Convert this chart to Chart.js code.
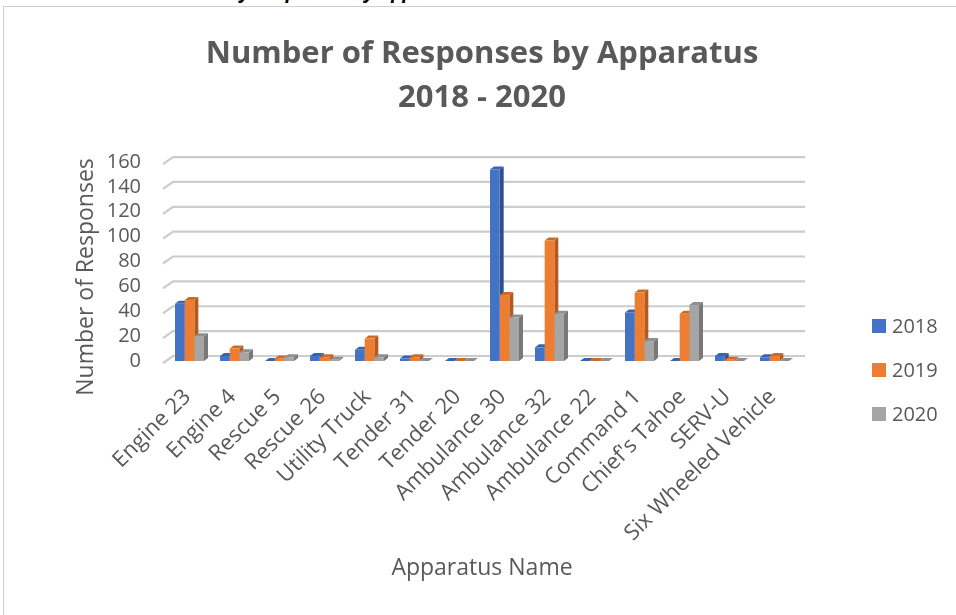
<!DOCTYPE html>
<html>
<head>
<meta charset="utf-8">
<title>Number of Responses by Apparatus</title>
<script src="https://cdn.jsdelivr.net/npm/chart.js@4"></script>
<style>
  html, body { margin: 0; padding: 0; background: #ffffff; overflow: hidden; }
  body { width: 956px; height: 615px; position: relative; }
  #caption {
    position: absolute; left: 68px; top: -20px;
    font: italic bold 19px "Open Sans", sans-serif; line-height: 22px;
    color: #000000; white-space: nowrap;
  }
  #frame {
    position: absolute; left: 3px; top: 6px;
    border-left: 1px solid #d0d0d0; border-top: 1px solid #d0d0d0;
    background: #ffffff;
  }
  #frame canvas { display: block; }
</style>
</head>
<body>
<div id="caption">Table 4: Total Yearly Responses by Apparatus 2018-2020</div>
<div id="frame"><canvas id="responsesChart" width="966" height="608"></canvas></div>
<script>
const apparatus = ['Engine 23', 'Engine 4', 'Rescue 5', 'Rescue 26', 'Utility Truck', 'Tender 31', 'Tender 20',
    'Ambulance 30', 'Ambulance 32', 'Ambulance 22', 'Command 1', "Chief's Tahoe", 'SERV-U', 'Six Wheeled Vehicle'];
const years = ['2018', '2019', '2020'];
const responses2018 = [46, 4, 0, 4, 9, 2, 0, 154, 11, 0, 39, 0, 4, 3];
const responses2019 = [49, 10, 2, 3, 18, 3, 0, 53, 97, 0, 55, 38, 1, 4];
const responses2020 = [20, 7, 3, 1, 3, 0, 0, 35, 38, 0, 16, 45, 0, 0];
const yMax = 160;
const yStep = 20;

const fontFamily = '"Open Sans", sans-serif';
const textColor = '#595959';

// front / top / side shading of the columns
const frontColors = ['#4472C4', '#ED7D31', '#A5A5A5'];
const topColors = ['#3a63ad', '#cf6a26', '#8f8f8f'];
const sideColors = ['#2c4f8f', '#b35a1e', '#787878'];
const DEPTH_X = 4;
const DEPTH_Y = 3;

// back wall gridlines plus the top/right faces of each column
const depthPlugin = {
    id: 'depth',
    beforeDatasetsDraw(chart) {
        const { ctx, chartArea, scales: { y } } = chart;
        ctx.save();
        ctx.strokeStyle = '#cccccc';
        ctx.lineWidth = 2.2;
        y.ticks.forEach(t => {
            const py = y.getPixelForValue(t.value);
            ctx.beginPath();
            ctx.moveTo(chartArea.left - 4, py + 2);
            ctx.lineTo(chartArea.left + 6, py - 5);
            ctx.lineTo(chartArea.right + 8, py - 5);
            ctx.stroke();
        });

        chart.data.datasets.forEach((ds, i) => {
            chart.getDatasetMeta(i).data.forEach(bar => {
                const { x, y: top, base, width } = bar.getProps(['x', 'y', 'base', 'width'], true);
                const l = x - width / 2;
                const r = x + width / 2;
                ctx.fillStyle = sideColors[i];
                ctx.beginPath();
                ctx.moveTo(r, top);
                ctx.lineTo(r + DEPTH_X, top - DEPTH_Y);
                ctx.lineTo(r + DEPTH_X, base - DEPTH_Y);
                ctx.lineTo(r, base);
                ctx.closePath();
                ctx.fill();
                ctx.fillStyle = topColors[i];
                ctx.beginPath();
                ctx.moveTo(l, top);
                ctx.lineTo(l + DEPTH_X, top - DEPTH_Y);
                ctx.lineTo(r + DEPTH_X, top - DEPTH_Y);
                ctx.lineTo(r, top);
                ctx.closePath();
                ctx.fill();
            });
        });
        ctx.restore();
    },
    afterDraw(chart) {
        const { ctx, chartArea } = chart;
        ctx.save();
        ctx.fillStyle = textColor;

        // y axis title
        ctx.font = `23px ${fontFamily}`;
        ctx.textAlign = 'center';
        ctx.textBaseline = 'middle';
        ctx.save();
        ctx.translate(chartArea.left - 81, chartArea.bottom - 84);
        ctx.rotate(-Math.PI / 2);
        ctx.fillText('Number of Responses', 0, 0);
        ctx.restore();

        // legend on the right
        ctx.font = `20px ${fontFamily}`;
        ctx.textAlign = 'left';
        chart.data.datasets.forEach((ds, i) => {
            const cy = chartArea.bottom - 35 + i * 44;
            const lx = chartArea.right + 75;
            ctx.fillStyle = ds.backgroundColor;
            ctx.fillRect(lx, cy - 7, 14, 14);
            ctx.fillStyle = textColor;
            ctx.fillText(ds.label, lx + 20, cy + 1);
        });
        ctx.restore();
    }
};

const series = [responses2018, responses2019, responses2020];

new Chart(document.getElementById('responsesChart'), {
    type: 'bar',
    data: {
        labels: apparatus,
        datasets: series.map((values, i) => ({
            label: years[i],
            data: values,
            backgroundColor: frontColors[i],
            borderWidth: 0,
            categoryPercentage: 0.644,
            barPercentage: 1
        }))
    },
    options: {
        responsive: false,
        animation: false,
        layout: { padding: { top: 0, right: 173, bottom: 0, left: 0 } },
        plugins: {
            legend: { display: false },
            tooltip: { enabled: false },
            title: {
                display: true,
                fullSize: false,
                text: ['Number of Responses by Apparatus', '2018 - 2020'],
                color: textColor,
                font: { family: fontFamily, size: 31, weight: 'bold', lineHeight: 1.42 },
                padding: { top: 25, bottom: 42 }
            }
        },
        scales: {
            x: {
                grid: { display: false, drawTicks: false },
                border: { display: false },
                ticks: {
                    color: textColor,
                    font: { family: fontFamily, size: 22 },
                    minRotation: 45,
                    maxRotation: 45,
                    autoSkip: false,
                    padding: 23,
                    labelOffset: -2
                },
                title: {
                    display: true,
                    text: 'Apparatus Name',
                    color: textColor,
                    font: { family: fontFamily, size: 23 },
                    padding: { top: 0, bottom: 33 }
                },
                afterFit(scale) { scale.height = 254; }
            },
            y: {
                min: 0,
                max: yMax,
                grid: { display: false, drawTicks: false },
                border: { display: false },
                ticks: {
                    stepSize: yStep,
                    autoSkip: false,
                    color: textColor,
                    font: { family: fontFamily, size: 20 },
                    padding: 26
                },
                afterFit(scale) { scale.width = 163; }
            }
        }
    },
    plugins: [depthPlugin]
});
</script>
</body>
</html>
